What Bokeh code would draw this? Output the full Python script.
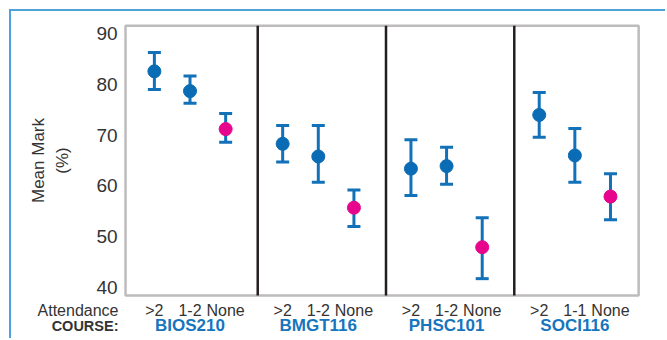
import math
from bokeh.plotting import figure
from bokeh.models import (ColumnDataSource, Whisker, TeeHead, Label, BoxAnnotation,
                          FixedTicker, LinearAxis)
from bokeh.embed import file_html
from bokeh.resources import INLINE

# ---- data ----
courses = ["BIOS210", "BMGT116", "PHSC101", "SOCI116"]
attendance = [[">2", "1-2", "None"], [">2", "1-2", "None"],
              [">2", "1-2", "None"], [">2", "1-1", "None"]]
means = [[82.6, 78.7, 71.2], [68.3, 65.8, 55.7], [63.4, 63.9, 47.9], [74.0, 66.0, 57.9]]
upper = [[86.3, 81.7, 74.3], [71.9, 71.9, 59.2], [69.1, 67.6, 53.7], [78.4, 71.3, 62.4]]
lower = [[79.0, 76.3, 68.6], [64.7, 60.7, 52.0], [58.1, 60.3, 41.7], [69.6, 60.7, 53.3]]
y_ticks = [40, 50, 60, 70, 80, 90]

BLUE = "#0a6cb5"
WHISK = "#1271b8"
PINK = "#e6058c"
DARK = "#231f20"
TXT = "#333333"
CBLUE = "#1675bd"
FONT = "Liberation Sans"

STEP = 10      # spacing between attendance levels
GSTEP = 36     # spacing between course groups

# chart box (the visible black frame), in data units
X_LO, X_HI = -8.1, 135.9
Y_LO, Y_HI = 38.4, 91.6

xs, ys, up, lo, cols, labs = [], [], [], [], [], []
for g in range(len(courses)):
    for j in range(3):
        xs.append(g * GSTEP + j * STEP)
        ys.append(means[g][j])
        up.append(upper[g][j])
        lo.append(lower[g][j])
        cols.append(PINK if attendance[g][j] == "None" else BLUE)
        labs.append(attendance[g][j])
src = ColumnDataSource(dict(x=xs, y=ys, upper=up, lower=lo, color=cols, lab=labs))

centers = [g * GSTEP + STEP for g in range(len(courses))]
dividers = [(g * GSTEP + 2 * STEP + (g + 1) * GSTEP) / 2 + 1 for g in range(len(courses) - 1)]

p = figure(width=656, height=329, output_backend="svg", toolbar_location=None,
           x_range=(-40.1, 144.0), y_range=(29.5, 94.4),
           min_border_left=0, min_border_right=0, min_border_top=0, min_border_bottom=0)
p.styles = {"margin-left": "9px", "margin-top": "9px",
            "border-left": "2px solid #4fa3dc", "border-top": "2px solid #4fa3dc"}
p.background_fill_color = "white"
p.border_fill_color = "white"
p.outline_line_color = None
p.grid.visible = False

# y axis at the left edge of the box
p.yaxis.fixed_location = X_LO
p.yaxis.ticker = FixedTicker(ticks=y_ticks)
p.yaxis.major_tick_line_color = None
p.yaxis.minor_tick_line_color = None
p.yaxis.axis_line_color = None
p.yaxis.major_label_text_font = FONT
p.yaxis.major_label_text_font_size = "19px"
p.yaxis.major_label_text_color = TXT
p.yaxis.major_label_standoff = 2

# x axis: attendance labels
p.xaxis.fixed_location = Y_LO
p.xaxis.ticker = FixedTicker(ticks=xs)
p.xaxis.major_label_overrides = {x: l for x, l in zip(xs, labs)}
p.xaxis.major_tick_line_color = None
p.xaxis.minor_tick_line_color = None
p.xaxis.axis_line_color = None
p.xaxis.major_label_text_font = FONT
p.xaxis.major_label_text_font_size = "16px"
p.xaxis.major_label_text_color = TXT
p.xaxis.major_label_standoff = 1

# second x axis: course names
cax = LinearAxis(fixed_location=Y_LO, ticker=FixedTicker(ticks=centers),
                 major_label_overrides={c: n for c, n in zip(centers, courses)},
                 major_tick_line_color=None, minor_tick_line_color=None, axis_line_color=None,
                 major_label_text_font=FONT, major_label_text_font_size="17px",
                 major_label_text_font_style="bold", major_label_text_color=CBLUE,
                 major_label_standoff=15)
p.add_layout(cax, "below")

# frame and panel dividers
p.add_layout(BoxAnnotation(left=X_LO, right=X_HI, bottom=Y_LO, top=Y_HI,
                           fill_alpha=0, line_color=DARK, line_width=2.5))
p.segment(x0=dividers, x1=dividers, y0=[Y_LO] * len(dividers), y1=[Y_HI] * len(dividers),
          line_color=DARK, line_width=2.5)

# error bars and means
p.add_layout(Whisker(source=src, base="x", upper="upper", lower="lower",
                     line_color=WHISK, line_width=3,
                     upper_head=TeeHead(size=13, line_color=WHISK, line_width=3),
                     lower_head=TeeHead(size=13, line_color=WHISK, line_width=3)))
p.scatter("x", "y", source=src, size=13, fill_color="color", line_color="color")

# left side texts (screen px, from canvas bottom-left)
p.add_layout(Label(x=107, y=30, x_units="screen", y_units="screen", text="Attendance",
                   text_align="right", text_baseline="middle", text_font=FONT,
                   text_font_size="16px", text_color=TXT))
p.add_layout(Label(x=107, y=15, x_units="screen", y_units="screen", text="COURSE:",
                   text_align="right", text_baseline="middle", text_font=FONT,
                   text_font_size="14.5px", text_font_style="bold", text_color=TXT))
p.add_layout(Label(x=27, y=180, x_units="screen", y_units="screen", text="Mean Mark",
                   angle=math.pi / 2, text_align="center", text_baseline="middle",
                   text_font=FONT, text_font_size="17px", text_color=TXT))
p.add_layout(Label(x=51, y=180, x_units="screen", y_units="screen", text="(%)",
                   angle=math.pi / 2, text_align="center", text_baseline="middle",
                   text_font=FONT, text_font_size="17px", text_color=TXT))

open("out.html", "w").write(file_html(p, INLINE))
